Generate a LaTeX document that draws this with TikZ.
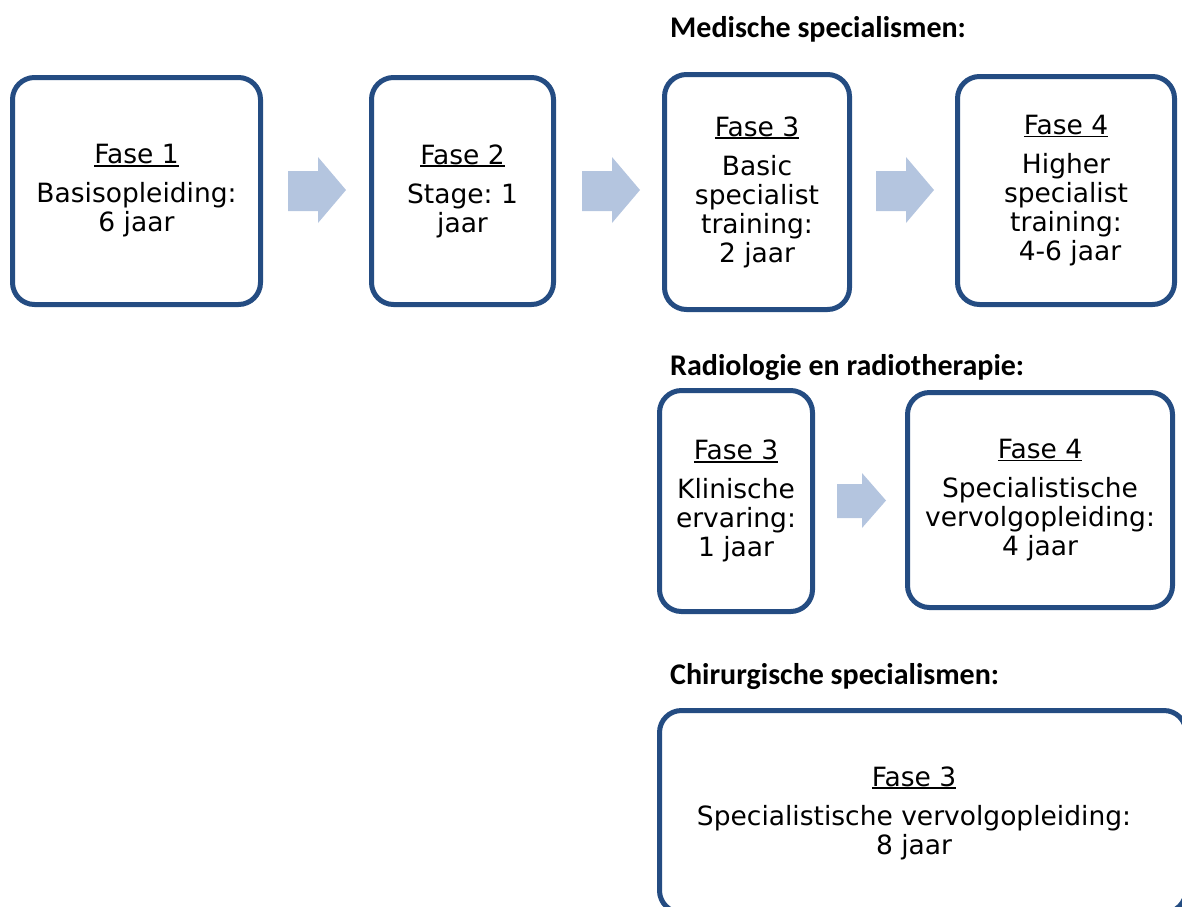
\documentclass[tikz,border=0pt]{standalone}
\usepackage{fontspec}
\setmainfont{DejaVu Sans}
\newfontfamily\headfont{Carlito}
\definecolor{boxblue}{RGB}{36,76,130}
\definecolor{arrowblue}{RGB}{180,197,223}
\newcommand{\ulx}[1]{\setbox0=\hbox{#1}\rlap{\rule[-3pt]{\wd0}{1.6pt}}\box0}
\frenchspacing
\begin{document}
\begin{tikzpicture}[x=1pt,y=-1pt,
  box/.style={draw=boxblue, line width=5pt, rounded corners=22pt, fill=white,
    align=center, font=\fontsize{26.5}{29}\selectfont, inner sep=0pt},
  txt/.style={align=center, font=\fontsize{26.5}{29}\selectfont, inner sep=0pt},
  heading/.style={anchor=base west, inner sep=0pt, font=\headfont\bfseries\fontsize{30}{36}\selectfont},
  blockarrow/.style={fill=arrowblue, draw=none}]
\useasboundingbox (0,0) rectangle (1182,906);
\clip (0,0) rectangle (1182,906);

% headings
\node[heading] (h1) at (670,37) {Medische specialismen:};
\node[heading] (h2) at (670,375) {Radiologie en radiotherapie:};
\node[heading] (h3) at (670,684) {Chirurgische specialismen:};

% row 1
\node[box, minimum width=248pt, minimum height=227pt] (b1) at (136.5,191)
  {\ulx{Fase 1}\\[10pt]Basisopleiding:\\6 jaar};
\node[box, minimum width=182pt, minimum height=227pt] (b2) at (462.5,191)
  {\ulx{Fase 2}\\[10pt]Stage: 1\\jaar};
\node[box, minimum width=185pt, minimum height=235pt] (b3) at (757,192)
  {\ulx{Fase 3}\\[10pt]Basic\\specialist\\training:\\2 jaar};
\node[box, minimum width=217pt, minimum height=228pt] (b4) at (1066,190.5)
  {\ulx{Fase 4}\\[10pt]Higher\\specialist\\training:\\\hspace*{8pt}4-6 jaar};

% row 2
\node[box, minimum width=153pt, minimum height=221pt] (b5) at (736,501)
  {\ulx{Fase 3}\\[10pt]Klinische\\ervaring:\\1 jaar};
\node[box, minimum width=265pt, minimum height=215pt] (b6) at (1040,500)
  {\ulx{Fase 4}\\[10pt]Specialistische\\vervolgopleiding:\\4 jaar};

% row 3
\node[box, minimum width=526.5pt, minimum height=202pt] (b7) at (922.75,811.5) {};
\node[txt] (t7) at (914,813)
  {\ulx{Fase 3}\\[10pt]Specialistische vervolgopleiding:\\8 jaar};

% block arrows
\fill[blockarrow] (288,171) -- (318,171) -- (318,157) -- (346,190) -- (318,223) -- (318,211) -- (288,211) -- cycle;
\fill[blockarrow] (582,171) -- (612,171) -- (612,157) -- (640,190) -- (612,223) -- (612,211) -- (582,211) -- cycle;
\fill[blockarrow] (876,171) -- (906,171) -- (906,157) -- (934,190) -- (906,223) -- (906,211) -- (876,211) -- cycle;
\fill[blockarrow] (837,484) -- (862,484) -- (862,473) -- (886,500.5) -- (862,528) -- (862,518) -- (837,518) -- cycle;
\end{tikzpicture}
\end{document}
